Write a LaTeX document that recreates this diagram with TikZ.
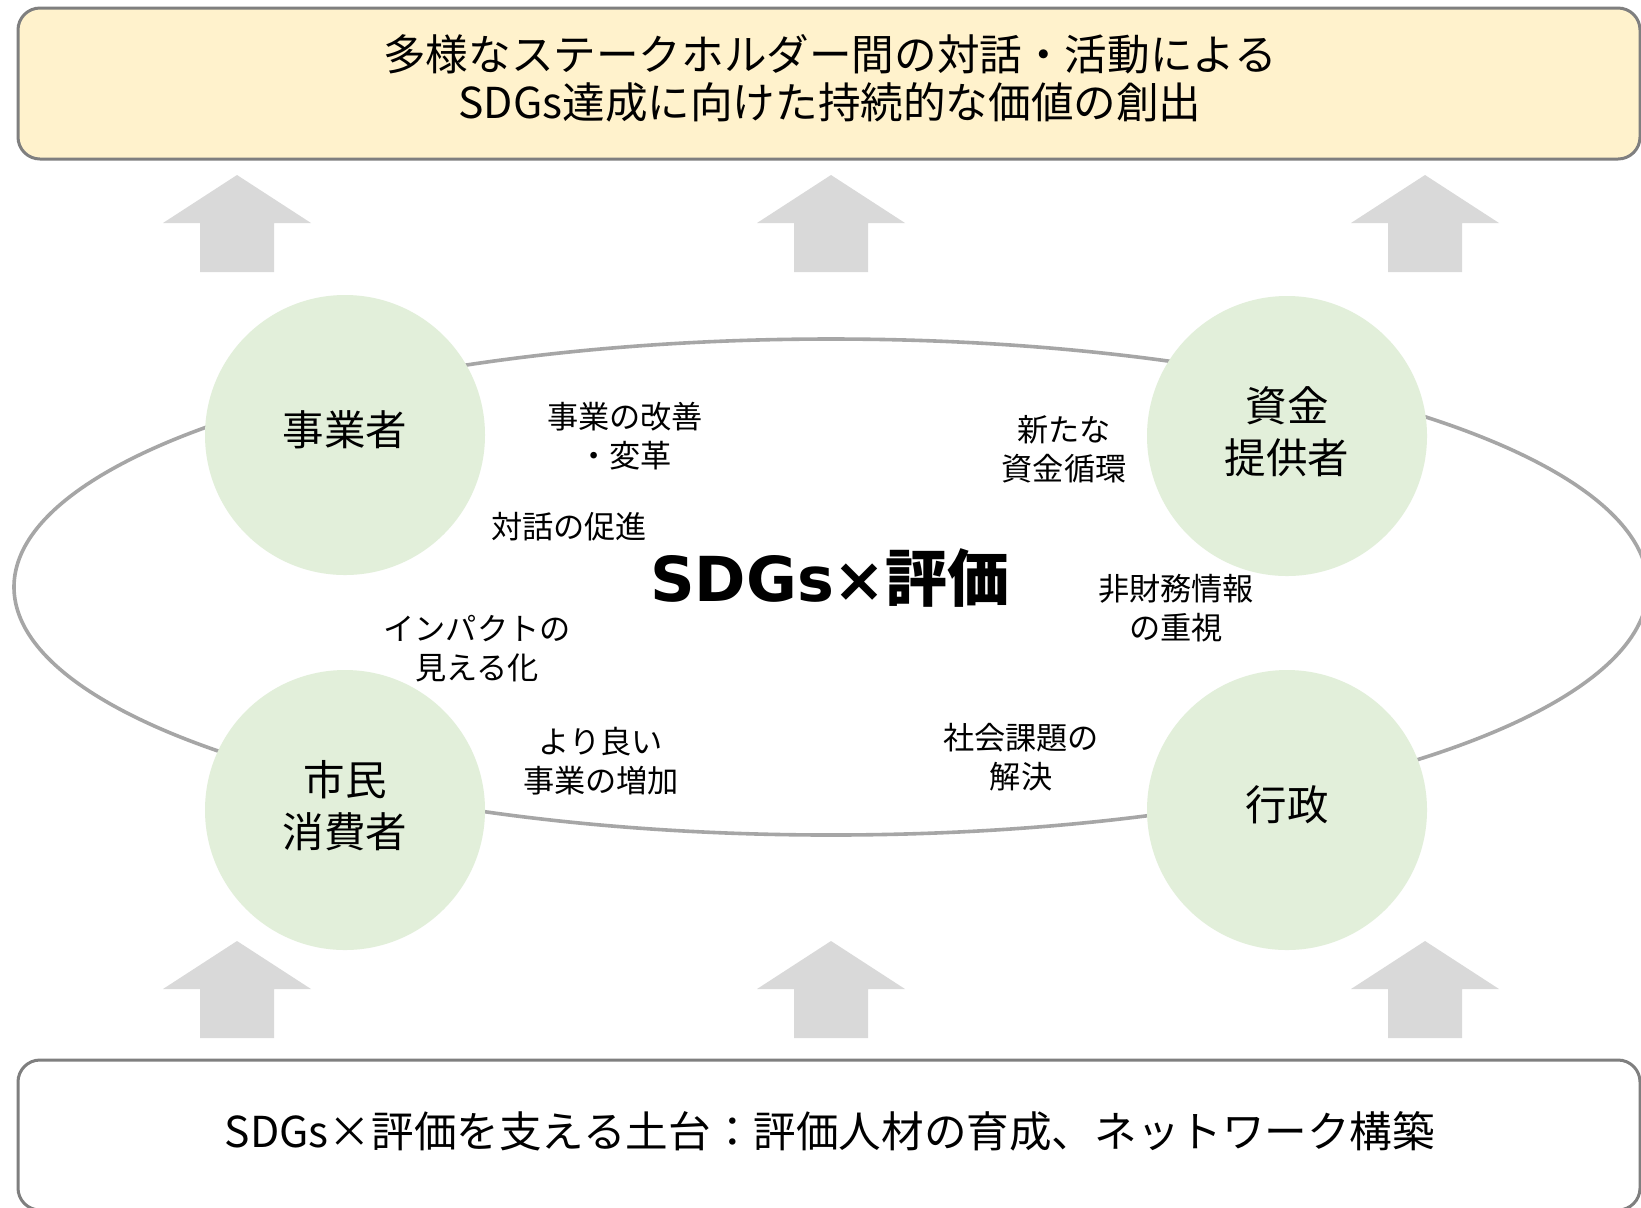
\documentclass[tikz,border=0pt]{standalone}
\usepackage{fontspec}
\setmainfont{Noto Sans CJK JP}
\newfontfamily\verafont{DejaVu Sans}
\usetikzlibrary{shapes.geometric}
\definecolor{goalfill}{HTML}{FFF2CC}
\definecolor{boxline}{HTML}{7F7F7F}
\definecolor{ringline}{HTML}{A6A6A6}
\definecolor{actorfill}{HTML}{E2EFDA}
\definecolor{arrowfill}{HTML}{D9D9D9}

\begin{document}
\begin{tikzpicture}[x=0.5pt,y=-0.5pt,
		panel/.style={draw=boxline,line width=1.5pt,rounded corners=11pt,minimum width=811pt},
		headline/.style={align=center,inner sep=0pt,font=\fontsize{21.3}{24}\selectfont},
		ring/.style={ellipse,draw=ringline,line width=1.8pt,minimum width=817pt,minimum height=248pt,inner sep=0pt},
		actor/.style={circle,fill=actorfill,minimum size=140pt,inner sep=0pt},
		actortext/.style={align=center,inner sep=0pt,font=\fontsize{20.75}{26}\selectfont},
		effect/.style={align=center,inner sep=0pt,font=\fontsize{15.6}{19.5}\selectfont},
		uparrow/.style={fill=arrowfill}]
		\useasboundingbox (0,0) rectangle (1641,1207);
		\fill[white] (0,0) rectangle (1641,1207);
		\clip (0,0) rectangle (1641,1207);
		
		% goal and base
		\node[panel,fill=goalfill,minimum height=75.5pt] (goal) at (829,83.5) {};
		\node[headline] (goaltext) at (830,78) {多様なステークホルダー間の対話・活動による\\SDGs達成に向けた持続的な価値の創出};
		\node[panel,fill=white,minimum height=75pt] (base) at (829,1135) {};
		\node[headline] (basetext) at (830,1131) {SDGs×評価を支える土台：評価人材の育成、ネットワーク構築};
		
		% block arrows
		\foreach \ty in {175,941}{
			\foreach \ax in {237,831,1425}{
				\fill[uparrow] (\ax,\ty) -- (\ax+74,\ty+48) -- (\ax+37,\ty+48) -- (\ax+37,\ty+97)
				-- (\ax-37,\ty+97) -- (\ax-37,\ty+48) -- (\ax-74,\ty+48) -- cycle;
			}
		}
		
		% cycle and stakeholders
		\node[ring] (cycle) at (831,587) {};
		\node[actor] (biz) at (345,435) {};
		\node[actor] (fund) at (1287,436) {};
		\node[actor] (citizen) at (345,810) {};
		\node[actor] (gov) at (1287,810) {};
		\node[actortext] at ([yshift=2.5pt]biz) {事業者};
		\node[actortext] at ([yshift=2pt]fund) {資金\\提供者};
		\node[actortext] at ([yshift=2pt]citizen) {市民\\消費者};
		\node[actortext] at ([yshift=2.5pt]gov) {行政};
		
		\node[font=\fontsize{31}{31}\selectfont\bfseries] (core) at (830,578) {{\verafont SDGs×}評価};
		
		% effects
		\node[effect] (improve) at (625,436) {事業の改善\\・変革};
		\node[effect] (dialog) at (569,527) {対話の促進};
		\node[effect] (money) at (1064,449) {新たな\\資金循環};
		\node[effect] (nonfin) at (1176,608) {非財務情報\\の重視};
		\node[effect] (impact) at (477,649) {インパクトの\\見える化};
		\node[effect] (better) at (601,761) {より良い\\事業の増加};
		\node[effect] (social) at (1021,757) {社会課題の\\解決};
	\end{tikzpicture}
\end{document}
